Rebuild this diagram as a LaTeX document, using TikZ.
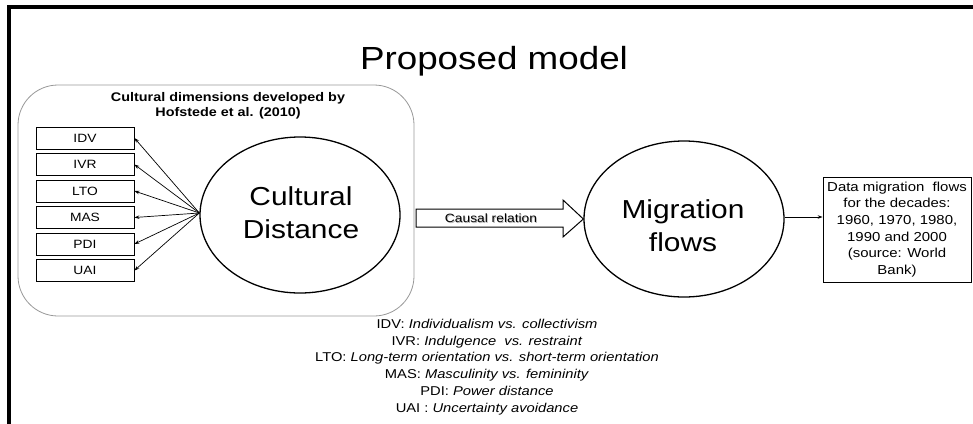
\documentclass[tikz,border=0pt]{standalone}
\usepackage{fontspec}
\setmainfont[FakeStretch=1.15]{Liberation Sans}
\usetikzlibrary{shapes.geometric,arrows.meta}
\tikzset{
  frameline/.style={line width=4pt,black},
  group/.style={draw=black!40,line width=0.8pt,rounded corners=40pt},
  dimbox/.style={draw,line width=0.8pt,minimum width=98pt,minimum height=22pt,inner sep=0pt,
    font=\fontsize{12}{14}\selectfont},
  bigell/.style={draw,ellipse,line width=1.3pt,minimum width=200pt,minimum height=156pt,inner sep=0pt},
  elltext/.style={align=center,inner sep=0pt,font=\fontsize{26}{33}\selectfont},
  small tip/.style={-{Stealth[length=5pt,width=3.5pt]},line width=0.7pt},
  databox/.style={draw,line width=0.8pt,minimum width=148pt,minimum height=105pt,inner sep=2pt,
    align=center,font=\fontsize{13}{16.7}\selectfont},
  legend/.style={align=center,inner sep=0pt,font=\fontsize{12.8}{16.8}\selectfont},
}
\begin{document}
\begin{tikzpicture}[x=1pt,y=-1pt]
\useasboundingbox (0,0) rectangle (973,423);
\fill[white] (0,0) rectangle (973,423);

% slide frame
\draw[frameline] (9,425) -- (9,7) -- (975,7);

% title
\node[anchor=base,inner sep=0pt,font=\fontsize{32}{36}\selectfont] (title) at (494,69) {Proposed model};

% group of cultural dimensions
\draw[group] (18,85) rectangle (414,316);
\node[align=center,inner sep=0pt,font=\bfseries\fontsize{12.5}{15}\selectfont] (grouphead) at (228,106)
  {Cultural dimensions developed by\\Hofstede et al. (2010)};

\node[dimbox] (idv) at (85,138) {IDV};
\node[dimbox] (ivr) at (85,164.5) {IVR};
\node[dimbox] (lto) at (85,191) {LTO};
\node[dimbox] (mas) at (85,217.5) {MAS};
\node[dimbox] (pdi) at (85,244) {PDI};
\node[dimbox] (uai) at (85,270.5) {UAI};

% cultural distance
\node[bigell] (cd) at (300,215) {};
\node[elltext] (cdtext) at (301,213) {Cultural\\Distance};
\coordinate (cdw) at ([yshift=2pt]cd.west);
\foreach \b in {idv,ivr,lto,mas,pdi,uai}
  \draw[small tip] (cdw) -- (\b.east);

% migration flows
\node[bigell] (mf) at (684,219) {};
\node[elltext] (mftext) at (683,226) {Migration\\flows};

% causal relation block arrow
\draw[line width=1pt,fill=white] (416,209) -- (563,209) -- (563,200) -- (mf.west) -- (563,237) -- (563,227) -- (416,227) -- cycle;
\node[text=black!30,inner sep=0pt,font=\fontsize{12}{14}\selectfont] at (491.8,219.3) {Causal relation};
\node[inner sep=0pt,font=\fontsize{12}{14}\selectfont] (causal) at (491,218.5) {Causal relation};

% data source
\node[databox] (data) at (897,229.5)
  {Data migration \ flows\\for the decades:\\1960, 1970, 1980,\\1990 and 2000\\(source: World\\Bank)};
\coordinate (mfe) at ([yshift=2pt]mf.east);
\draw[small tip] (mfe) -- (mfe -| data.west);

% abbreviations
\node[legend] (legend) at (487,367)
  {IDV: \textit{Individualism vs. collectivism}\\
   IVR: \textit{Indulgence \ vs. restraint}\\
   LTO: \textit{Long-term orientation vs. short-term orientation}\\
   MAS: \textit{Masculinity vs. femininity}\\
   PDI: \textit{Power distance}\\
   UAI : \textit{Uncertainty avoidance}};
\end{tikzpicture}
\end{document}
